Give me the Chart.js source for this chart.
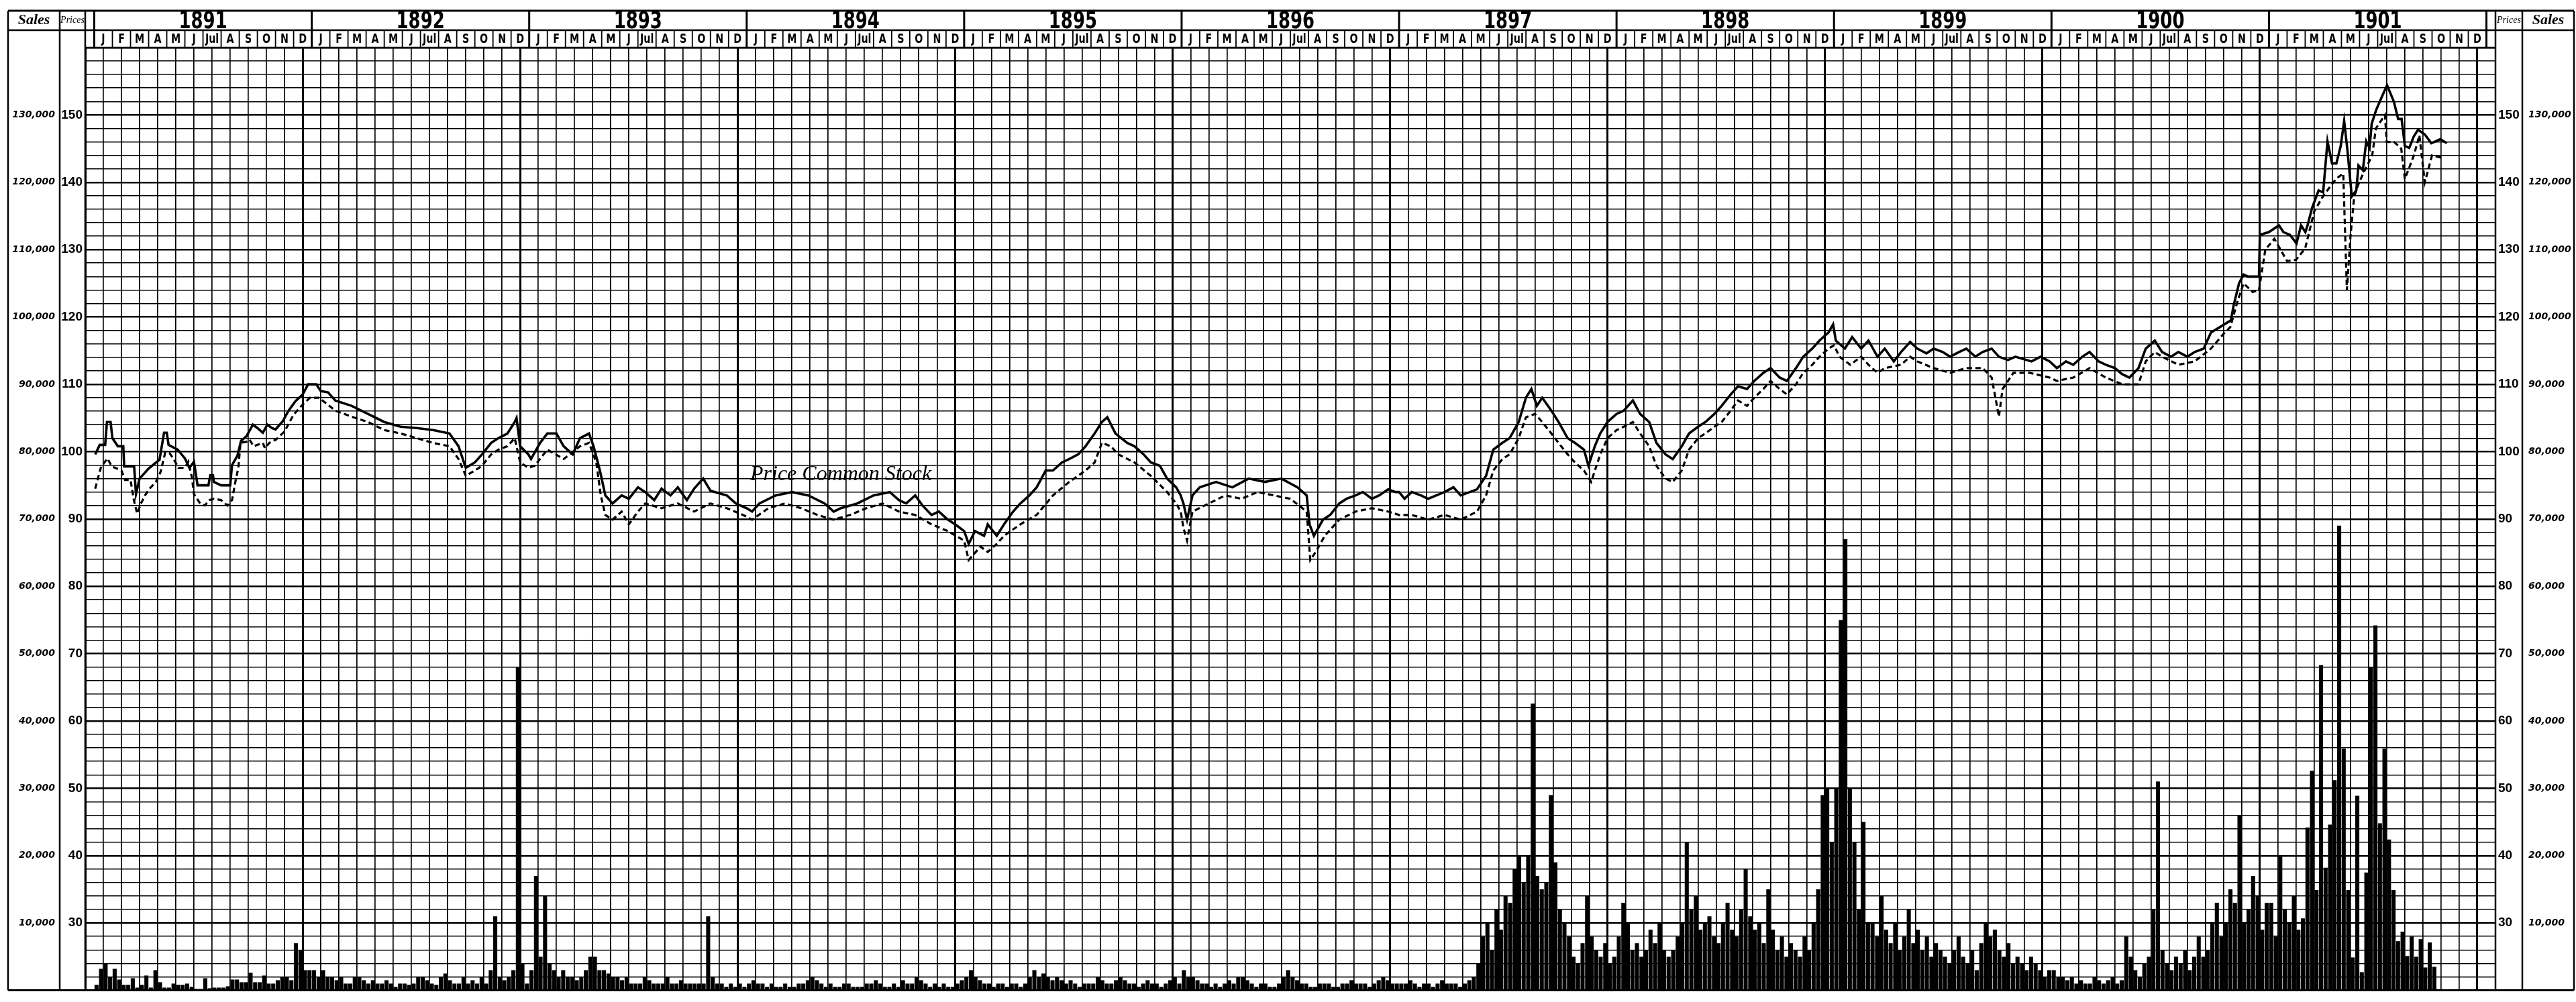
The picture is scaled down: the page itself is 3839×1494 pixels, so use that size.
<!DOCTYPE html>
<html>
<head>
<meta charset="utf-8">
<script src="https://cdn.jsdelivr.net/npm/chart.js@4.4.1/dist/chart.umd.min.js"></script>
<style>
html, body { margin: 0; padding: 0; background: #fff; }
canvas { display: block; }
</style>
</head>
<body>
<canvas id="chart" width="3839" height="1494"></canvas>
<script>
// years and month boxes of the header
var years = [1891, 1892, 1893, 1894, 1895, 1896, 1897, 1898, 1899, 1900, 1901];
var monthLabels = ['J', 'F', 'M', 'A', 'M', 'J', 'Jul', 'A', 'S', 'O', 'N', 'D'];

// price of the stock, solid line: [month counted from Jan 1891, price]
var highPrice = [
  // 1891
  [0.05,99.6],[0.3,101],[0.6,101],[0.7,104.4],[0.9,104.4],[1.0,102],[1.3,100.8],[1.6,100.8],[1.65,97.8],[2.2,97.8],[2.3,93.7],[2.5,96],[3.0,97.5],[3.6,98.8],[3.85,102.8],[4.0,102.8],[4.1,101],[4.6,100.3],[5.0,99],[5.25,97.6],[5.5,98.5],[5.7,95],[6.3,95],[6.4,96.5],[6.55,96.5],[6.6,95.5],[7.0,95],[7.5,95],[7.6,98],[7.9,99.4],[8.1,101.6],[8.4,102.3],[8.75,104],[9.0,103.5],[9.3,102.8],[9.55,104],[9.8,103.5],[10.0,103.3],[10.4,104.5],[10.7,106],[11.1,107.5],[11.5,108.5],[11.8,110],
  // 1892
  [12.25,110],[12.5,109],[12.9,108.8],[13.3,107.6],[14.2,106.8],[15.1,105.6],[16.0,104.4],[16.9,103.7],[17.8,103.5],[18.7,103.2],[19.6,102.7],[20.1,100.8],[20.5,97.6],[21.0,98.4],[21.4,99.6],[21.9,101.3],[22.3,102],[22.8,102.7],[23.2,104.4],[23.3,105],[23.5,100.8],[23.95,99.6],
  // 1893
  [24.1,98.9],[24.6,101.3],[25.0,102.7],[25.5,102.7],[25.9,100.8],[26.4,99.6],[26.8,102],[27.3,102.7],[27.55,100.8],[27.9,97.2],[28.2,93.5],[28.6,92.3],[29.1,93.5],[29.5,93],[30.0,94.7],[30.4,94],[30.9,92.8],[31.3,94.5],[31.8,93.5],[32.2,94.7],[32.7,92.8],[33.1,94.5],[33.6,96],[34.0,94.2],[34.9,93.5],[35.4,92.3],[36.0,91.6],
  // 1894
  [36.3,91.1],[36.7,92.3],[37.6,93.5],[38.5,94],[39.4,93.5],[40.3,92.3],[40.8,91.1],[41.2,91.6],[42.1,92.3],[43.0,93.5],[43.9,94],[44.4,92.8],[44.8,92.3],[45.3,93.5],[45.7,92],[46.2,90.6],[46.6,91.1],[47.1,89.9],[47.5,89.2],[48.0,88.2],
  // 1895
  [48.25,86.3],[48.6,88.2],[49.1,87.5],[49.3,89.2],[49.8,87.5],[50.2,89.2],[50.7,91.1],[51.1,92.3],[51.6,93.5],[52.0,94.7],[52.5,97.2],[52.9,97.2],[53.4,98.4],[53.8,98.9],[54.3,99.6],[54.7,100.8],[55.2,102.7],[55.6,104.4],[55.9,105.1],[56.35,102.7],[57.0,101.3],[57.4,100.8],[57.9,99.6],[58.3,98.4],[58.8,97.9],[59.2,96],[59.7,94.7],[59.95,93.5],
  // 1896
  [60.1,92.3],[60.3,89.9],[60.6,93.5],[61.0,94.7],[61.9,95.5],[62.8,94.7],[63.7,96],[64.6,95.5],[65.5,96],[66.4,94.7],[66.9,93.5],[67.06,89.2],[67.3,87.5],[67.8,89.9],[68.2,90.6],[68.7,92.3],[69.1,93],[69.6,93.5],[70.0,94],[70.5,93],[70.9,93.5],[71.4,94.4],[71.8,94],[72.0,94],
  // 1897
  [72.3,93],[72.7,94],[73.2,93.5],[73.6,93],[74.5,94],[75.0,94.7],[75.4,93.5],[75.9,94],[76.3,94.4],[76.8,96.4],[77.2,100.3],[77.7,101.3],[78.1,102],[78.6,104.4],[79.0,108],[79.3,109.3],[79.6,106.8],[79.9,108],[80.4,106.1],[80.8,104.4],[81.3,102],[81.7,101.3],[82.2,100.3],[82.45,97.9],[82.8,100.8],[83.1,102.7],[83.5,104.4],[84.0,105.6],
  // 1898
  [84.4,106.1],[84.9,107.6],[85.3,105.6],[85.8,104.4],[86.2,101.3],[86.7,99.6],[87.1,98.9],[87.6,100.8],[88.0,102.7],[88.5,103.7],[88.9,104.4],[89.4,105.6],[89.8,106.8],[90.3,108.5],[90.7,109.7],[91.2,109.3],[91.6,110.5],[92.1,111.7],[92.5,112.4],[93.0,111],[93.4,110.5],[93.9,112.4],[94.3,114.1],[94.8,115.3],[95.2,116.5],[95.7,117.7],[95.95,118.9],
  // 1899
  [96.1,116.5],[96.6,115.3],[97.0,117],[97.5,115.3],[97.9,116.5],[98.4,114.1],[98.8,115.3],[99.3,113.4],[99.7,114.8],[100.2,116.3],[100.6,115.3],[101.1,114.6],[101.5,115.3],[102.0,114.8],[102.4,114.1],[102.9,114.8],[103.3,115.3],[103.8,114.1],[104.2,114.8],[104.7,115.3],[105.1,114.1],[105.6,113.6],[106.0,114.1],[106.9,113.4],[107.4,114.1],[107.9,113.4],
  // 1900
  [108.3,112.4],[108.8,113.4],[109.2,112.9],[109.7,114.1],[110.1,114.8],[110.6,113.4],[111.0,112.9],[111.5,112.4],[111.9,111.5],[112.3,111],[112.8,112.4],[113.2,115.3],[113.7,116.5],[114.1,114.8],[114.6,114.1],[115.0,114.8],[115.5,114.1],[115.9,114.8],[116.4,115.3],[116.8,117.7],[117.3,118.5],[117.9,119.5],[118.05,121.7],[118.35,125],[118.6,126.3],[118.84,126],[119.45,126],[119.5,132.2],
  // 1901
  [120.0,132.6],[120.55,133.6],[120.8,132.6],[121.16,132.2],[121.52,130.9],[121.77,133.6],[122.01,132.6],[122.13,133.6],[122.38,136.2],[122.74,138.8],[122.99,138.5],[123.23,146.1],[123.48,142.8],[123.72,142.8],[123.96,145.4],[124.15,149.1],[124.33,144.8],[124.57,137.9],[124.82,138.8],[124.94,142.5],[125.18,141.8],[125.37,146.1],[125.55,145.1],[125.67,148.7],[125.91,150.7],[126.28,153],[126.52,154.4],[126.89,152],[127.13,149.4],[127.32,149.4],[127.5,145.4],[127.74,145.1],[127.99,146.8],[128.23,147.8],[128.6,147.1],[128.96,145.8],[129.45,146.4],[129.82,145.8]
];

// price of the stock, dashed line
var lowPrice = [
  // 1891
  [0.05,94.5],[0.36,97.6],[0.72,99],[0.97,97.8],[1.5,97.2],[1.7,95.8],[2.0,95.8],[2.19,92.7],[2.37,90.8],[2.56,92.2],[2.8,93.5],[3.05,94.5],[3.4,95.5],[3.66,97],[3.91,99.8],[4.15,99.8],[4.4,98.8],[4.64,97.6],[5.0,97.6],[5.19,98.5],[5.38,96.3],[5.5,93.7],[5.87,92.2],[6.1,92],[6.35,92.8],[6.6,93],[7.0,92.8],[7.34,92],[7.6,92.8],[7.77,95.3],[7.95,97.6],[8.07,101.3],[8.45,101.5],[8.56,101.8],[8.8,100.8],[9.3,101.3],[9.42,100.5],[9.66,101.3],[10.03,101.8],[10.5,103],[11.0,105.5],[11.5,107],[11.9,108],
  // 1892
  [12.4,108],[13.3,106.1],[14.2,105.2],[15.1,104.4],[16.0,103.2],[16.9,102.7],[17.8,102],[18.7,101.3],[19.6,100.8],[20.1,98.9],[20.5,96.4],[21.0,97.2],[21.4,97.9],[21.9,99.6],[22.3,100.3],[22.8,100.8],[23.2,102],[23.5,98.4],[23.95,97.6],
  // 1893
  [24.3,97.9],[25.0,100.3],[25.9,98.9],[26.8,100.8],[27.3,101.3],[27.7,98.4],[27.95,93.5],[28.2,90.6],[28.6,89.9],[29.1,91.1],[29.5,89.2],[30.0,91.1],[30.4,92.3],[31.3,91.6],[32.2,92.3],[33.1,91.1],[34.0,92.3],[34.9,91.6],[35.8,90.6],
  // 1894
  [36.3,89.9],[37.2,91.6],[38.1,92.3],[39.0,91.6],[39.9,90.6],[40.8,89.9],[41.7,90.6],[42.6,91.6],[43.5,92.3],[44.4,91.1],[45.3,90.6],[46.2,89.2],[47.1,88.2],[48.0,86.8],
  // 1895
  [48.25,83.9],[48.9,85.9],[49.3,85.1],[49.8,86.3],[50.2,87.5],[51.1,89.2],[52.0,90.6],[52.9,93.5],[53.8,95.5],[54.7,97.2],[55.2,98.4],[55.6,101.3],[56.1,100.8],[56.5,99.6],[57.4,98.4],[58.3,96.4],[59.2,94],[59.7,92.3],[59.95,91.1],
  // 1896
  [60.1,88.7],[60.3,86.8],[60.6,91.1],[61.5,92.3],[62.4,93.5],[63.3,93],[64.2,94],[65.1,93.5],[66.0,93],[66.9,91.1],[67.1,83.9],[67.4,85.1],[67.9,87.5],[68.7,89.9],[69.6,91.1],[70.5,91.6],[71.4,91.1],[72.0,90.6],
  // 1897
  [72.7,90.6],[73.6,89.9],[74.5,90.6],[75.4,89.9],[76.3,91.1],[76.8,93.5],[77.2,97.2],[77.7,98.9],[78.1,99.6],[78.6,102],[79.0,105.1],[79.5,105.6],[79.9,104.4],[80.4,102.7],[80.8,101.3],[81.3,99.6],[81.7,98.4],[82.2,97.2],[82.6,95.5],[83.1,99.6],[83.5,102],[84.0,103.2],
  // 1898
  [84.4,103.7],[84.9,104.4],[85.3,102.7],[85.8,100.8],[86.2,97.9],[86.7,96],[87.1,95.5],[87.6,97.2],[88.0,100.3],[88.5,102],[88.9,102.7],[89.4,103.7],[89.8,104.4],[90.3,106.1],[90.7,107.6],[91.2,106.8],[91.6,108],[92.1,109.3],[92.5,110.5],[93.0,109.3],[93.4,108.5],[93.9,110],[94.3,111.7],[94.8,112.9],[95.2,114.1],[95.7,115.3],[96.0,115.8],
  // 1899
  [96.3,114.1],[96.9,112.9],[97.5,114.1],[97.9,112.9],[98.4,111.7],[98.8,112.4],[99.7,112.9],[100.2,114.1],[100.6,113.4],[101.5,112.4],[102.4,111.7],[103.3,112.4],[104.2,112.4],[104.7,111],[105.1,105.2],[105.3,109.3],[105.9,111.7],[106.8,111.7],[107.9,111],
  // 1900
  [108.3,110.5],[109.2,111],[110.1,112.4],[111.0,111],[111.9,110],[112.8,110],[113.2,113.4],[113.7,114.8],[114.1,114.1],[115.0,112.9],[115.9,113.4],[116.8,115.3],[117.5,117.5],[117.87,118.5],[118.23,122],[118.6,125],[119.1,123.7],[119.45,124],[119.8,130],
  // 1901
  [120.3,131.6],[121.0,128.3],[121.5,128.5],[122.0,130.2],[122.5,135.7],[123.0,138],[123.7,140.5],[124.1,141.3],[124.3,124],[124.5,132],[124.7,137.8],[124.9,139.5],[125.2,141.3],[125.7,144],[125.9,148],[126.4,150],[126.5,146],[126.9,146],[127.3,145],[127.5,140.5],[128.0,144],[128.3,147],[128.6,140],[129.0,144],[129.6,143.6]
];

// weekly sales, thousands of shares (4 bars to a month)
var sales1891 = [0.8,3.2,4,2, 3.2,1.6,0.8,0.8, 1.8,0.4,0.8,2.2, 0.4,3,1.2,0.4, 0.4,1,0.8,0.8, 1,0.5,0.2,0.2, 1.8,0.3,0.4,0.4, 0.4,0.6,1.6,1.6, 1.2,1.2,2.6,1.2, 1.2,2.2,1,1, 1.5,2,2,1.5, 7,6,3,3];
var sales1892 = [3,2,3,2, 2,1.5,2,1, 1,2,2,1.5, 1,1.5,1,1, 1.5,1,0.5,1, 1,0.8,1,2, 2,1.5,1,0.8, 2,2.5,1.5,1, 1,2,1,1.5, 1,2,1,3, 11,2,1.5,2, 3,48,4,1];
var sales1893 = [3,17,5,14, 4,3,2,3, 2,2,1.5,2, 3,5,5,3, 3,2.5,2,2, 1.5,2,1,1, 1,2,1.5,1, 1,1,2,1, 1,1.5,1,1, 1,1,1,11, 2,1,1,0.5, 1,0.5,1,0.5];
var sales1894 = [1,1.5,1,1, 0.5,1,0.5,0.5, 1,0.5,0.5,1, 1,1.5,2,1.5, 1,0.5,1,0.5, 0.5,1,1,0.5, 0.5,0.5,1,1, 1.5,1,0.5,0.5, 1,0.5,1.5,1, 1,2,1.5,1, 0.5,1,0.5,1, 0.5,0.5,1,1.5];
var sales1895 = [2,3,2,1.5, 1,1,0.5,1, 1,0.5,1,1, 0.5,1,2,3, 2,2.5,2,1.5, 2,1.5,1,1.5, 1,0.5,1,1, 1,2,1.5,1, 1,1.5,2,1.5, 1,1,0.5,1, 1.5,1,1,0.5, 1,1.5,2,1];
var sales1896 = [3,2,2,1.5, 1,1,0.5,1, 0.5,1,1.5,1, 2,2,1.5,1, 0.5,1,1,0.5, 0.5,1,2,3, 2,1.5,1,1, 0.5,0.5,1,1, 1,0.5,0.5,1, 1,1.5,1,1, 1,0.5,1,1.5, 2,1.5,1,1];
var sales1897 = [1,1,1.5,1, 0.5,1,1,0.5, 1,1.5,1,1, 1,0.5,1,1.5, 2,4,8,10, 6,12,9,14, 13,18,20,16, 20,42.6,17,15, 16,29,19,12, 10,8,5,4, 7,14,8,6, 5,7,4,5];
var sales1898 = [8,13,10,6, 7,5,6,9, 7,10,6,5, 6,8,10,22, 12,14,9,10, 11,8,7,10, 13,9,8,12, 18,11,9,10, 7,15,9,6, 8,5,7,6, 5,8,6,10, 15,29,30,22];
var sales1899 = [30,55,67,30, 22,12,25,10, 10,8,14,9, 7,10,6,8, 12,7,9,6, 8,5,7,6, 5,4,6,8, 5,4,6,3, 7,10,8,9, 6,5,7,4, 5,4,3,5, 4,3,2,3];
var sales1900 = [3,2,2,1.5, 2,1,1.5,1, 1,2,1.5,1, 1.5,2,1,1.5, 8,5,3,2, 4,5,12,31, 6,4,3,5, 4,6,3,5, 8,5,6,10, 13,8,10,15, 13,26,10,12, 17,14,9,13];
var sales1901 = [13,8,20,12, 10,14,9,10.7, 24.2,32.6,14.9,48.3, 18.2,24.6,31.2,69, 35.9,14.9,4.9,28.9, 2.7,17.5,48,54.2, 24.8,35.9,22.4,14.9, 7.3,8.7,5.1,8, 5,7.6,3.4,7.1, 3.5,0,0,0, 0,0,0,0, 0,0,0,0];

var salesByYear = [sales1891, sales1892, sales1893, sales1894, sales1895, sales1896,
                   sales1897, sales1898, sales1899, sales1900, sales1901];

// build {x, y} points for the library
var salesPoints = [];
salesByYear.forEach(function (arr, i) {
    arr.forEach(function (v, w) {
        salesPoints.push({ x: i * 12 + (w + 0.5) / 4, y: v * 1000 });
    });
});
function toPoints(list) {
    return list.map(function (p) { return { x: p[0], y: p[1] }; });
}

function line(c, x1, y1, x2, y2, w) {
    c.lineWidth = w;
    c.beginPath();
    c.moveTo(x1, y1);
    c.lineTo(x2, y2);
    c.stroke();
}

// narrow lettering, like the hand drawn header
function narrowText(c, txt, x, y, sx) {
    c.save();
    c.translate(x, y);
    c.scale(sx, 1);
    c.fillText(txt, 0, 0);
    c.restore();
}

// header boxes, column frames and the note, drawn round the plot
var frame = {
    id: 'frame',
    beforeDraw: function (chart) {
        var c = chart.ctx;
        c.save();
        c.fillStyle = '#fff';
        c.fillRect(0, 0, chart.width, chart.height);
        c.restore();
    },
    afterDraw: function (chart) {
        var c = chart.ctx, a = chart.chartArea, xs = chart.scales.x;
        var top = 16, mid = 45, L = 12, R = 3836;
        var leftCol = chart.scales.yS.right, rightCol = chart.scales.ySR.left;
        c.save();
        c.strokeStyle = '#000';
        c.fillStyle = '#000';

        line(c, L, top, R, top, 3);
        line(c, L, mid, R, mid, 2.5);
        line(c, a.left, a.top, a.right, a.top, 2.5);
        line(c, L, a.bottom, R, a.bottom, 3);
        [L, leftCol, a.left, a.right, rightCol, R].forEach(function (x) {
            line(c, x, top, x, a.bottom, 2.5);
        });

        // month boxes and year boxes
        c.textAlign = 'center';
        c.textBaseline = 'middle';
        c.font = 'bold 19px "DejaVu Sans", sans-serif';
        for (var m = 0; m <= 132; m++) {
            var x = xs.getPixelForValue(m);
            line(c, x, m % 12 === 0 ? top : mid, x, a.top, m % 12 === 0 ? 3 : 1.8);
            if (m < 132) {
                var x2 = xs.getPixelForValue(m + 1);
                narrowText(c, monthLabels[m % 12], (x + x2) / 2, (mid + a.top) / 2 + 1, 0.75);
            }
        }
        c.font = 'bold 36px "DejaVu Sans", sans-serif';
        years.forEach(function (y, i) {
            var x1 = xs.getPixelForValue(i * 12), x2 = xs.getPixelForValue(i * 12 + 12);
            narrowText(c, String(y), (x1 + x2) / 2, (top + mid) / 2 + 2, 0.72);
        });

        // column heads
        c.font = 'italic bold 22px "Liberation Serif", serif';
        c.fillText('Sales', (L + leftCol) / 2, (top + mid) / 2);
        c.fillText('Sales', (rightCol + R) / 2, (top + mid) / 2);
        c.font = 'italic 14px "Liberation Serif", serif';
        c.fillText('Prices', (leftCol + a.left) / 2, (top + mid) / 2);
        c.fillText('Prices', (a.right + rightCol) / 2, (top + mid) / 2);

        // hand written note
        c.font = 'italic 32px "Liberation Serif", serif';
        c.textAlign = 'left';
        c.fillText('Price Common Stock', 1118, 708);
        c.restore();
    }
};

function priceTick(v) {
    return (v % 10 === 0 && v >= 30 && v <= 150) ? String(v) : '';
}
function salesTick(v) {
    return (v >= 10000 && v <= 130000) ? v.toLocaleString('en-US') : '';
}
var priceFont = { family: '"Liberation Sans", Arial, sans-serif', size: 19, weight: 'bold' };
var salesFont = { family: '"DejaVu Sans", sans-serif', size: 14, weight: 'bold', style: 'italic' };

var ctx = document.getElementById('chart').getContext('2d');
var chart = new Chart(ctx, {
    data: {
        datasets: [{
            type: 'line',
            label: 'High',
            data: toPoints(highPrice),
            yAxisID: 'y',
            borderColor: '#000',
            borderWidth: 3.6,
            pointRadius: 0,
            tension: 0,
            order: 1
        }, {
            type: 'line',
            label: 'Low',
            data: toPoints(lowPrice),
            yAxisID: 'y',
            borderColor: '#000',
            borderWidth: 3.2,
            borderDash: [8, 5],
            pointRadius: 0,
            tension: 0,
            order: 2
        }, {
            type: 'bar',
            label: 'Sales',
            data: salesPoints,
            yAxisID: 'yS',
            backgroundColor: '#000',
            borderWidth: 0,
            barPercentage: 0.9,
            categoryPercentage: 1,
            order: 3
        }]
    },
    options: {
        responsive: false,
        animation: false,
        devicePixelRatio: 1,
        layout: { padding: { left: 12, right: 1, top: 71, bottom: 7 } },
        plugins: { legend: { display: false }, tooltip: { enabled: false } },
        scales: {
            x: {
                type: 'linear',
                min: 0,
                max: 132,
                afterFit: function (s) { s.height = 0; },
                ticks: { display: false, stepSize: 1, autoSkip: false },
                border: { display: false },
                grid: {
                    color: '#000',
                    drawTicks: false,
                    lineWidth: function (c) {
                        if (!c.tick) return 1.7;
                        return c.tick.value % 12 === 0 ? 3 : 1.7;
                    }
                }
            },
            y: {
                position: 'left',
                weight: 0,
                min: 20,
                max: 160,
                afterFit: function (s) { s.width = 38; },
                ticks: { stepSize: 2, autoSkip: false, callback: priceTick, color: '#000', font: priceFont, padding: 4 },
                border: { display: true, color: '#000', width: 2.5 },
                grid: {
                    color: '#000',
                    drawTicks: false,
                    lineWidth: function (c) {
                        if (!c.tick) return 1.6;
                        return c.tick.value % 10 === 0 ? 2.6 : 1.6;
                    }
                }
            },
            yS: {
                position: 'left',
                weight: 1,
                min: 0,
                max: 140000,
                afterFit: function (s) { s.width = 77; },
                ticks: { stepSize: 10000, autoSkip: false, callback: salesTick, color: '#000', font: salesFont, padding: 7 },
                border: { display: false },
                grid: { display: false, drawTicks: false }
            },
            yR: {
                position: 'right',
                weight: 0,
                min: 20,
                max: 160,
                afterFit: function (s) { s.width = 40; },
                ticks: { stepSize: 2, autoSkip: false, callback: priceTick, color: '#000', font: priceFont, padding: 4 },
                border: { display: false },
                grid: { display: false, drawTicks: false }
            },
            ySR: {
                position: 'right',
                weight: 1,
                min: 0,
                max: 140000,
                afterFit: function (s) { s.width = 79; },
                ticks: { stepSize: 10000, autoSkip: false, callback: salesTick, color: '#000', font: salesFont, padding: 9 },
                border: { display: false },
                grid: { display: false, drawTicks: false }
            }
        }
    },
    plugins: [frame]
});
</script>
</body>
</html>
